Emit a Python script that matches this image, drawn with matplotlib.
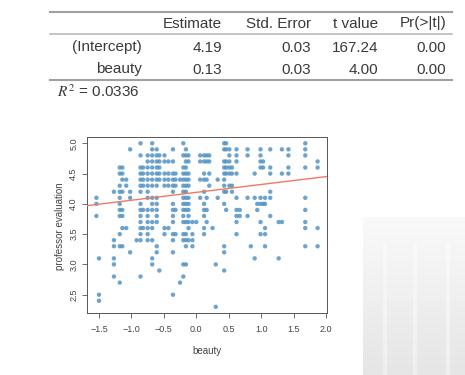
import matplotlib

matplotlib.use("Agg")
import matplotlib.pyplot as plt
from matplotlib.lines import Line2D
from matplotlib.patches import Rectangle
import numpy as np

W, H = 465, 375

# regression table
col_names = ["Estimate", "Std. Error", "t value", "Pr(>|t|)"]
row_names = ["(Intercept)", "beauty"]
estimates = [4.19, 0.13]
std_errors = [0.03, 0.03]
t_values = [167.24, 4.00]
p_values = [0.00, 0.00]
r_squared = 0.0336

# scatter data
beauty_levels = [
    -1.54, -1.50, -1.27, -1.18, -1.14, -1.08, -1.02, -0.92, -0.86, -0.82,
    -0.75, -0.68, -0.61, -0.57, -0.49, -0.43, -0.36, -0.32, -0.25, -0.20,
    -0.16, -0.12, -0.06, 0.00, 0.06, 0.12, 0.16, 0.20, 0.25, 0.30,
    0.33, 0.43, 0.46, 0.51, 0.55, 0.62, 0.67, 0.79, 0.84, 0.90,
    0.94, 0.99, 1.03, 1.06, 1.14, 1.27, 1.32, 1.42, 1.68, 1.87,
]
evals_by_level = [
    [4.1, 4.0, 3.8],
    [3.1, 2.5, 2.4],
    [4.2, 3.4, 3.3, 3.1, 3.0, 2.8],
    [4.6, 4.5, 4.3, 4.2, 4.1, 4.0, 3.9, 3.8, 3.5, 3.3, 2.7],
    [4.6, 4.5, 4.4, 4.2, 3.9, 3.8, 3.6, 3.3],
    [4.4, 4.3, 3.6],
    [4.9, 4.2, 4.1, 3.2],
    [3.4],
    [5.0, 4.8, 4.6, 4.5, 4.4, 4.3, 4.2, 4.0, 3.9, 3.8, 3.7, 3.6, 3.5, 3.4, 2.8],
    [4.6, 4.5, 4.4, 4.3, 3.9, 3.6],
    [4.8, 4.7, 4.6, 4.5, 4.4, 4.3, 4.2, 4.1, 3.9, 3.8, 3.7, 3.6, 3.5, 3.4],
    [5.0, 4.9, 4.8, 4.7, 4.6, 4.5, 4.4, 4.3, 4.1, 4.0, 3.9, 3.7, 3.6, 3.4, 3.1, 3.0],
    [4.9, 4.8, 4.7, 4.6, 4.5, 4.4, 4.3, 4.1, 4.0, 3.9, 3.8, 3.7, 3.3, 3.2],
    [4.8, 4.7, 4.6, 4.5, 4.4, 2.9],
    [4.8, 4.7, 4.5, 4.4, 4.3, 3.6, 3.5],
    [4.7, 4.5, 4.4, 4.3, 3.6],
    [4.9, 4.7, 4.5, 4.4, 4.3, 4.2, 4.0, 3.9, 3.8, 3.7, 3.5, 3.4, 3.2, 2.5],
    [4.5, 4.4, 4.3, 3.9, 3.5],
    [4.4, 2.7],
    [5.0, 4.8, 4.6, 4.5, 4.4, 4.3, 4.2, 4.1, 4.0, 3.9, 3.8, 3.7, 3.5, 3.4, 3.0, 2.8],
    [4.9, 4.8, 4.7, 4.6, 4.5, 4.4, 4.3, 4.2, 4.1, 4.0, 3.9, 3.7, 3.5, 3.4, 3.3, 3.0],
    [4.8, 4.7, 4.5, 4.4, 4.3, 4.1, 4.0, 3.9, 3.8, 3.7, 3.6, 3.4],
    [3.7, 3.5, 3.4, 3.3],
    [3.7],
    [4.8, 4.7, 4.4, 4.1],
    [4.8, 4.7, 4.5, 4.4, 4.2, 4.0, 3.9, 3.8, 3.6, 3.5],
    [4.8, 4.7, 4.4, 4.1, 3.9, 3.7],
    [4.8, 4.7, 4.5, 4.3],
    [3.6],
    [3.0, 2.3],
    [4.4, 4.1],
    [5.0, 4.9, 4.7, 4.6, 4.5, 4.4, 4.3, 4.2, 4.0, 3.3, 3.2, 2.9],
    [5.0, 4.9, 4.7, 4.6, 4.5, 4.2, 3.9],
    [4.9, 4.8, 4.7, 4.6, 4.5, 4.3],
    [4.6, 4.5, 4.3, 4.2],
    [4.9, 4.8, 4.7, 4.5, 4.1, 3.9, 3.8, 3.7, 3.5],
    [3.9, 3.8],
    [4.9, 4.8, 4.1, 3.8],
    [3.3],
    [4.5, 4.1, 3.1],
    [4.0, 3.9],
    [4.9, 4.8, 4.7, 4.6, 4.1, 4.0, 3.7, 3.5],
    [4.7, 4.6, 4.0],
    [4.1, 4.0, 3.6, 3.5, 3.3],
    [4.9, 4.6, 4.5, 4.2, 4.1, 3.8],
    [3.7, 3.1],
    [4.9, 4.5, 3.7],
    [4.9, 4.8, 4.6, 4.5],
    [5.0, 4.9, 4.8, 4.6, 4.1, 3.9, 3.7, 3.6, 3.3],
    [4.7, 4.6, 3.6, 3.3],
]

beauty = np.concatenate([[b] * len(v) for b, v in zip(beauty_levels, evals_by_level)])
evals = np.concatenate(evals_by_level)

plt.rcParams["font.family"] = ["Liberation Sans", "DejaVu Sans"]
plt.rcParams["mathtext.fontset"] = "stix"

text_col = "#3a3a3a"


def fx(x):
    return x / W


def fy(y):
    return 1 - y / H


fig = plt.figure(figsize=(W / 100, H / 100), dpi=100, facecolor="white")

# faint slide decoration on the right: grey bands getting darker towards the bottom
n_bands = 40
band_h = (375 - 217) / n_bands
for k in range(n_bands):
    top = 217 + k * band_h
    g = 0.975 - 0.075 * k / (n_bands - 1)
    fig.add_artist(Rectangle((fx(363), fy(top + band_h)), 102 / W, band_h / H + 0.001,
                             transform=fig.transFigure, facecolor=(g, g, g),
                             edgecolor="none", zorder=0))
for sx in [385, 415, 448]:
    fig.add_artist(Line2D([fx(sx), fx(sx)], [fy(375), fy(245)], transform=fig.transFigure,
                          color="white", linewidth=3.0, alpha=0.4, zorder=0))

# table rules
for y, lw, c in [(12, 1.5, "#a0a0a0"), (34, 1.1, "#b4b4b4"), (80, 1.5, "#a0a0a0")]:
    fig.add_artist(Line2D([fx(50), fx(452)], [fy(y), fy(y)], transform=fig.transFigure,
                          color=c, linewidth=lw))

col_right = [222, 311, 378, 446]
for name, xr in zip(col_names, col_right):
    fig.text(fx(xr), fy(23.5), name, ha="right", va="center", fontsize=11, color=text_col)

row_y = [47.5, 69.5]
for i, (rn, yy) in enumerate(zip(row_names, row_y)):
    fig.text(fx(142), fy(yy), rn, ha="right", va="center", fontsize=11, color=text_col)
    vals = [estimates[i], std_errors[i], t_values[i], p_values[i]]
    for v, xr in zip(vals, col_right):
        fig.text(fx(xr), fy(yy), f"{v:.2f}", ha="right", va="center", fontsize=11, color=text_col)

fig.text(fx(57), fy(92), f"$R^2$ = {r_squared:.4f}", ha="left", va="center",
         fontsize=11, color=text_col)

# scatter plot
ax = fig.add_axes([fx(87), fy(313), 240 / W, 176 / H])
ax.set_facecolor("white")
ax.scatter(beauty, evals, s=10, color="#5393c3", alpha=0.85, edgecolors="none", zorder=2)
xs = np.array([-1.685, 2.015])
ax.plot(xs, estimates[0] + estimates[1] * xs, color="#ec7b64", linewidth=1.0, zorder=3)

ax.set_xlim(-1.685, 2.015)
ax.set_ylim(2.198, 5.104)
xt = np.arange(-1.5, 2.01, 0.5)
yt = np.arange(2.5, 5.01, 0.5)
ax.set_xticks(xt)
ax.set_xticklabels([f"{t:.1f}".replace("-", "\u2212") for t in xt])
ax.set_yticks(yt)
ax.set_yticklabels([f"{t:.1f}" for t in yt], rotation=90, va="center", ha="center")

for sp in ax.spines.values():
    sp.set_color("#555555")
    sp.set_linewidth(0.7)
ax.tick_params(axis="both", colors="#555555", labelcolor="#444444", labelsize=6.5,
               length=3.6, width=0.6)
ax.tick_params(axis="x", pad=5)
ax.tick_params(axis="y", pad=6)

fig.text(fx(207), fy(351), "beauty", ha="center", va="center", fontsize=7, color="#444444")
fig.text(fx(60), fy(226), "professor evaluation", ha="center", va="center", rotation=90,
         fontsize=7, color="#444444")

fig.savefig("out.png", dpi=100, facecolor=fig.get_facecolor())
plt.close(fig)
